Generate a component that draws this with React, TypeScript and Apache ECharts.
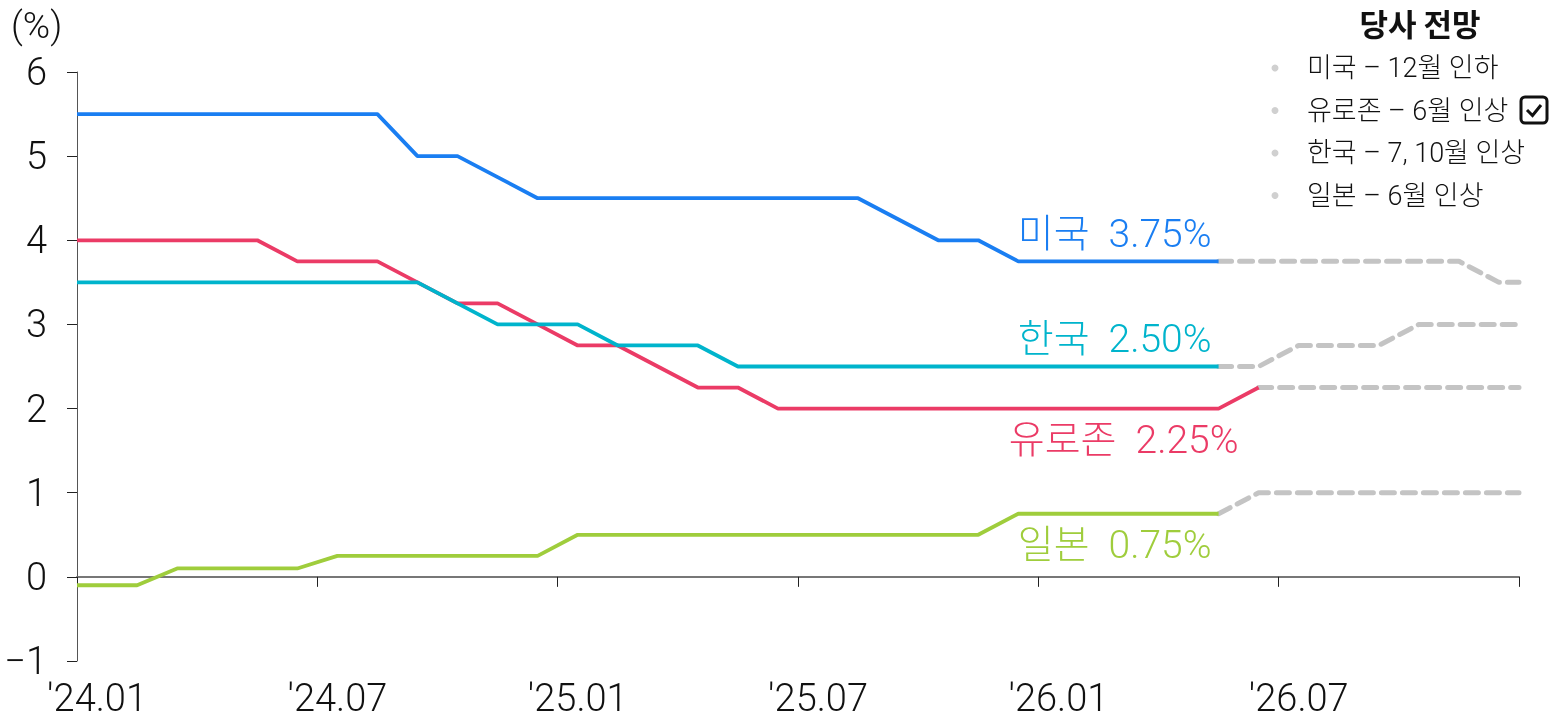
import React, { useEffect, useRef } from "react";
import * as echarts from "echarts";

const months = [
  "'24.01", "'24.02", "'24.03", "'24.04", "'24.05", "'24.06",
  "'24.07", "'24.08", "'24.09", "'24.10", "'24.11", "'24.12",
  "'25.01", "'25.02", "'25.03", "'25.04", "'25.05", "'25.06",
  "'25.07", "'25.08", "'25.09", "'25.10", "'25.11", "'25.12",
  "'26.01", "'26.02", "'26.03", "'26.04", "'26.05", "'26.06",
  "'26.07", "'26.08", "'26.09", "'26.10", "'26.11", "'26.12",
];

// monthly policy rates (%) — last entries are the house forecast
const usRate = [5.5, 5.5, 5.5, 5.5, 5.5, 5.5, 5.5, 5.5, 5.0, 5.0, 4.75, 4.5, 4.5, 4.5, 4.5, 4.5, 4.5, 4.5, 4.5, 4.5, 4.25, 4.0, 4.0, 3.75, 3.75, 3.75, 3.75, 3.75, 3.75, 3.75, 3.75, 3.75, 3.75, 3.75, 3.75, 3.5];
const euroRate = [4.0, 4.0, 4.0, 4.0, 4.0, 3.75, 3.75, 3.75, 3.5, 3.25, 3.25, 3.0, 2.75, 2.75, 2.5, 2.25, 2.25, 2.0, 2.0, 2.0, 2.0, 2.0, 2.0, 2.0, 2.0, 2.0, 2.0, 2.0, 2.0, 2.25, 2.25, 2.25, 2.25, 2.25, 2.25, 2.25];
const koreaRate = [3.5, 3.5, 3.5, 3.5, 3.5, 3.5, 3.5, 3.5, 3.5, 3.25, 3.0, 3.0, 3.0, 2.75, 2.75, 2.75, 2.5, 2.5, 2.5, 2.5, 2.5, 2.5, 2.5, 2.5, 2.5, 2.5, 2.5, 2.5, 2.5, 2.5, 2.75, 2.75, 2.75, 3.0, 3.0, 3.0];
const japanRate = [-0.1, -0.1, 0.1, 0.1, 0.1, 0.1, 0.25, 0.25, 0.25, 0.25, 0.25, 0.25, 0.5, 0.5, 0.5, 0.5, 0.5, 0.5, 0.5, 0.5, 0.5, 0.5, 0.5, 0.75, 0.75, 0.75, 0.75, 0.75, 0.75, 1.0, 1.0, 1.0, 1.0, 1.0, 1.0, 1.0];

// index of last actual (solid) month per series
const usLastActual = 28;
const euroLastActual = 29;
const koreaLastActual = 28;
const japanLastActual = 28;

const countryNames = ["미국", "유로존", "한국", "일본"];
const currentRates = ["3.75%", "2.25%", "2.50%", "0.75%"];
const outlookTitle = "당사 전망";
const outlookItems = ["미국 – 12월 인하", "유로존 – 6월 인상", "한국 – 7, 10월 인상", "일본 – 6월 인상"];
const yTicks = { min: -1, max: 6, interval: 1 };

const FONT = "Roboto, 'Noto Sans CJK KR', sans-serif";
const FW = 300;
const COLORS = { us: "#1a7ef2", euro: "#eb3b66", korea: "#00b4cc", japan: "#9fcd3c", fc: "#c4c4c4" };

function actualData(vals: number[], last: number) {
  const d: number[][] = [[0, vals[0]]];
  for (let i = 0; i <= last; i++) d.push([i + 0.5, vals[i]]);
  return d;
}
function forecastData(vals: number[], last: number) {
  const d: number[][] = [];
  for (let i = last; i < vals.length; i++) d.push([i + 0.5, vals[i]]);
  d.push([vals.length, vals[vals.length - 1]]);
  return d;
}

export default function App() {
  const ref = useRef<HTMLDivElement>(null);
  useEffect(() => {
    if (!ref.current) return;
    const chart = echarts.init(ref.current, null, { renderer: "svg" });

    const mk = (coord: number[], text: string, color: string, align: string, vAlign: string, offset: number[]) => ({
      symbol: "circle",
      symbolSize: 0,
      silent: true,
      data: [{ coord, value: 0 }],
      label: {
        show: true,
        formatter: text,
        position: [0, 0],
        align,
        verticalAlign: vAlign,
        offset,
        color,
        fontFamily: FONT,
        fontWeight: FW,
        fontSize: 39,
      },
    });

    const lastX = (last: number) => last + 0.5;

    const solid = (name: string, vals: number[], last: number, color: string, markPoint: any, z: number) => ({
      name,
      type: "line",
      xAxisIndex: 0,
      data: actualData(vals, last),
      showSymbol: false,
      symbol: "none",
      z,
      lineStyle: { color, width: 3.8 },
      markPoint,
    });
    const dashed = (name: string, vals: number[], last: number) => ({
      name: name + " 전망",
      type: "line",
      xAxisIndex: 0,
      data: forecastData(vals, last),
      symbol: "none",
      z: 1,
      lineStyle: { color: COLORS.fc, width: 5, type: [13, 8], cap: "round" },
    });

    const legendX = 1307;
    const legendY0 = 68;
    const legendGap = 42.5;

    chart.setOption({
      animation: false,
      grid: { left: 77, right: 42, top: 72, bottom: 60 },
      xAxis: [
        {
          type: "value",
          min: 0,
          max: months.length,
          interval: 6,
          position: "bottom",
          axisLine: { show: true, onZero: true, lineStyle: { color: "#777", width: 2 } },
          axisTick: { show: true, length: 10, lineStyle: { color: "#222", width: 1 } },
          axisLabel: { show: false },
          splitLine: { show: false },
        },
        {
          type: "category",
          data: months,
          boundaryGap: true,
          position: "bottom",
          axisLine: { show: false, onZero: false },
          axisTick: { show: false },
          axisLabel: { interval: 5, margin: 18, color: "#111", fontFamily: FONT, fontWeight: FW, fontSize: 38 },
          splitLine: { show: false },
        },
      ],
      yAxis: {
        type: "value",
        min: yTicks.min,
        max: yTicks.max,
        interval: yTicks.interval,
        axisLine: { show: true, onZero: false, lineStyle: { color: "#555", width: 1 } },
        axisTick: { show: true, length: 10, lineStyle: { color: "#222" } },
        axisLabel: { margin: 30, color: "#111", fontFamily: FONT, fontWeight: FW, fontSize: 38, formatter: (v: number) => (v < 0 ? "−" + Math.abs(v) : String(v)) },
        splitLine: { show: false },
      },
      series: [
        dashed(countryNames[0], usRate, usLastActual),
        dashed(countryNames[1], euroRate, euroLastActual),
        dashed(countryNames[2], koreaRate, koreaLastActual),
        dashed(countryNames[3], japanRate, japanLastActual),
        solid(countryNames[1], euroRate, euroLastActual, COLORS.euro,
          mk([lastX(koreaLastActual), euroRate[koreaLastActual]], countryNames[1] + "  " + currentRates[1], COLORS.euro, "right", "top", [20, 12]), 3),
        solid(countryNames[2], koreaRate, koreaLastActual, COLORS.korea,
          mk([lastX(koreaLastActual), koreaRate[koreaLastActual]], countryNames[2] + "  " + currentRates[2], COLORS.korea, "right", "bottom", [-7, -8]), 4),
        solid(countryNames[0], usRate, usLastActual, COLORS.us,
          mk([lastX(usLastActual), usRate[usLastActual]], countryNames[0] + "  " + currentRates[0], COLORS.us, "right", "bottom", [-7, -8]), 5),
        solid(countryNames[3], japanRate, japanLastActual, COLORS.japan,
          mk([lastX(japanLastActual), japanRate[japanLastActual]], countryNames[3] + "  " + currentRates[3], COLORS.japan, "right", "top", [-7, 12]), 5),
      ],
      graphic: [
        { type: "text", left: 11, top: 7, style: { text: "(%)", fontFamily: FONT, fontWeight: FW, fontSize: 37, fill: "#111" } },
        { type: "text", x: 1420, y: 7, style: { text: outlookTitle, fontFamily: "'Noto Sans CJK KR', sans-serif", fontWeight: "bold", fontSize: 31, fill: "#111", align: "center" } },
        ...outlookItems.map((t, i) => ({
          type: "circle",
          shape: { cx: 1275, cy: legendY0 + i * legendGap, r: 3.5 },
          style: { fill: "#d0d0d0" },
        })),
        ...outlookItems.map((t, i) => ({
          type: "text",
          x: legendX,
          y: legendY0 + i * legendGap,
          style: { text: t, fontFamily: FONT, fontWeight: FW, fontSize: 27, fill: "#111", verticalAlign: "middle" },
        })),
        { type: "rect", shape: { x: 1521, y: 97, width: 26, height: 26, r: 4 }, style: { fill: "none", stroke: "#111", lineWidth: 3 } },
        { type: "polyline", shape: { points: [[1527, 110], [1532.5, 115.5], [1541, 105]] }, style: { fill: "none", stroke: "#111", lineWidth: 3 } },
      ],
    });
    return () => chart.dispose();
  }, []);
  return <div ref={ref} style={{ position: "fixed", left: 0, top: 0, width: 1561, height: 721 }} />;
}
